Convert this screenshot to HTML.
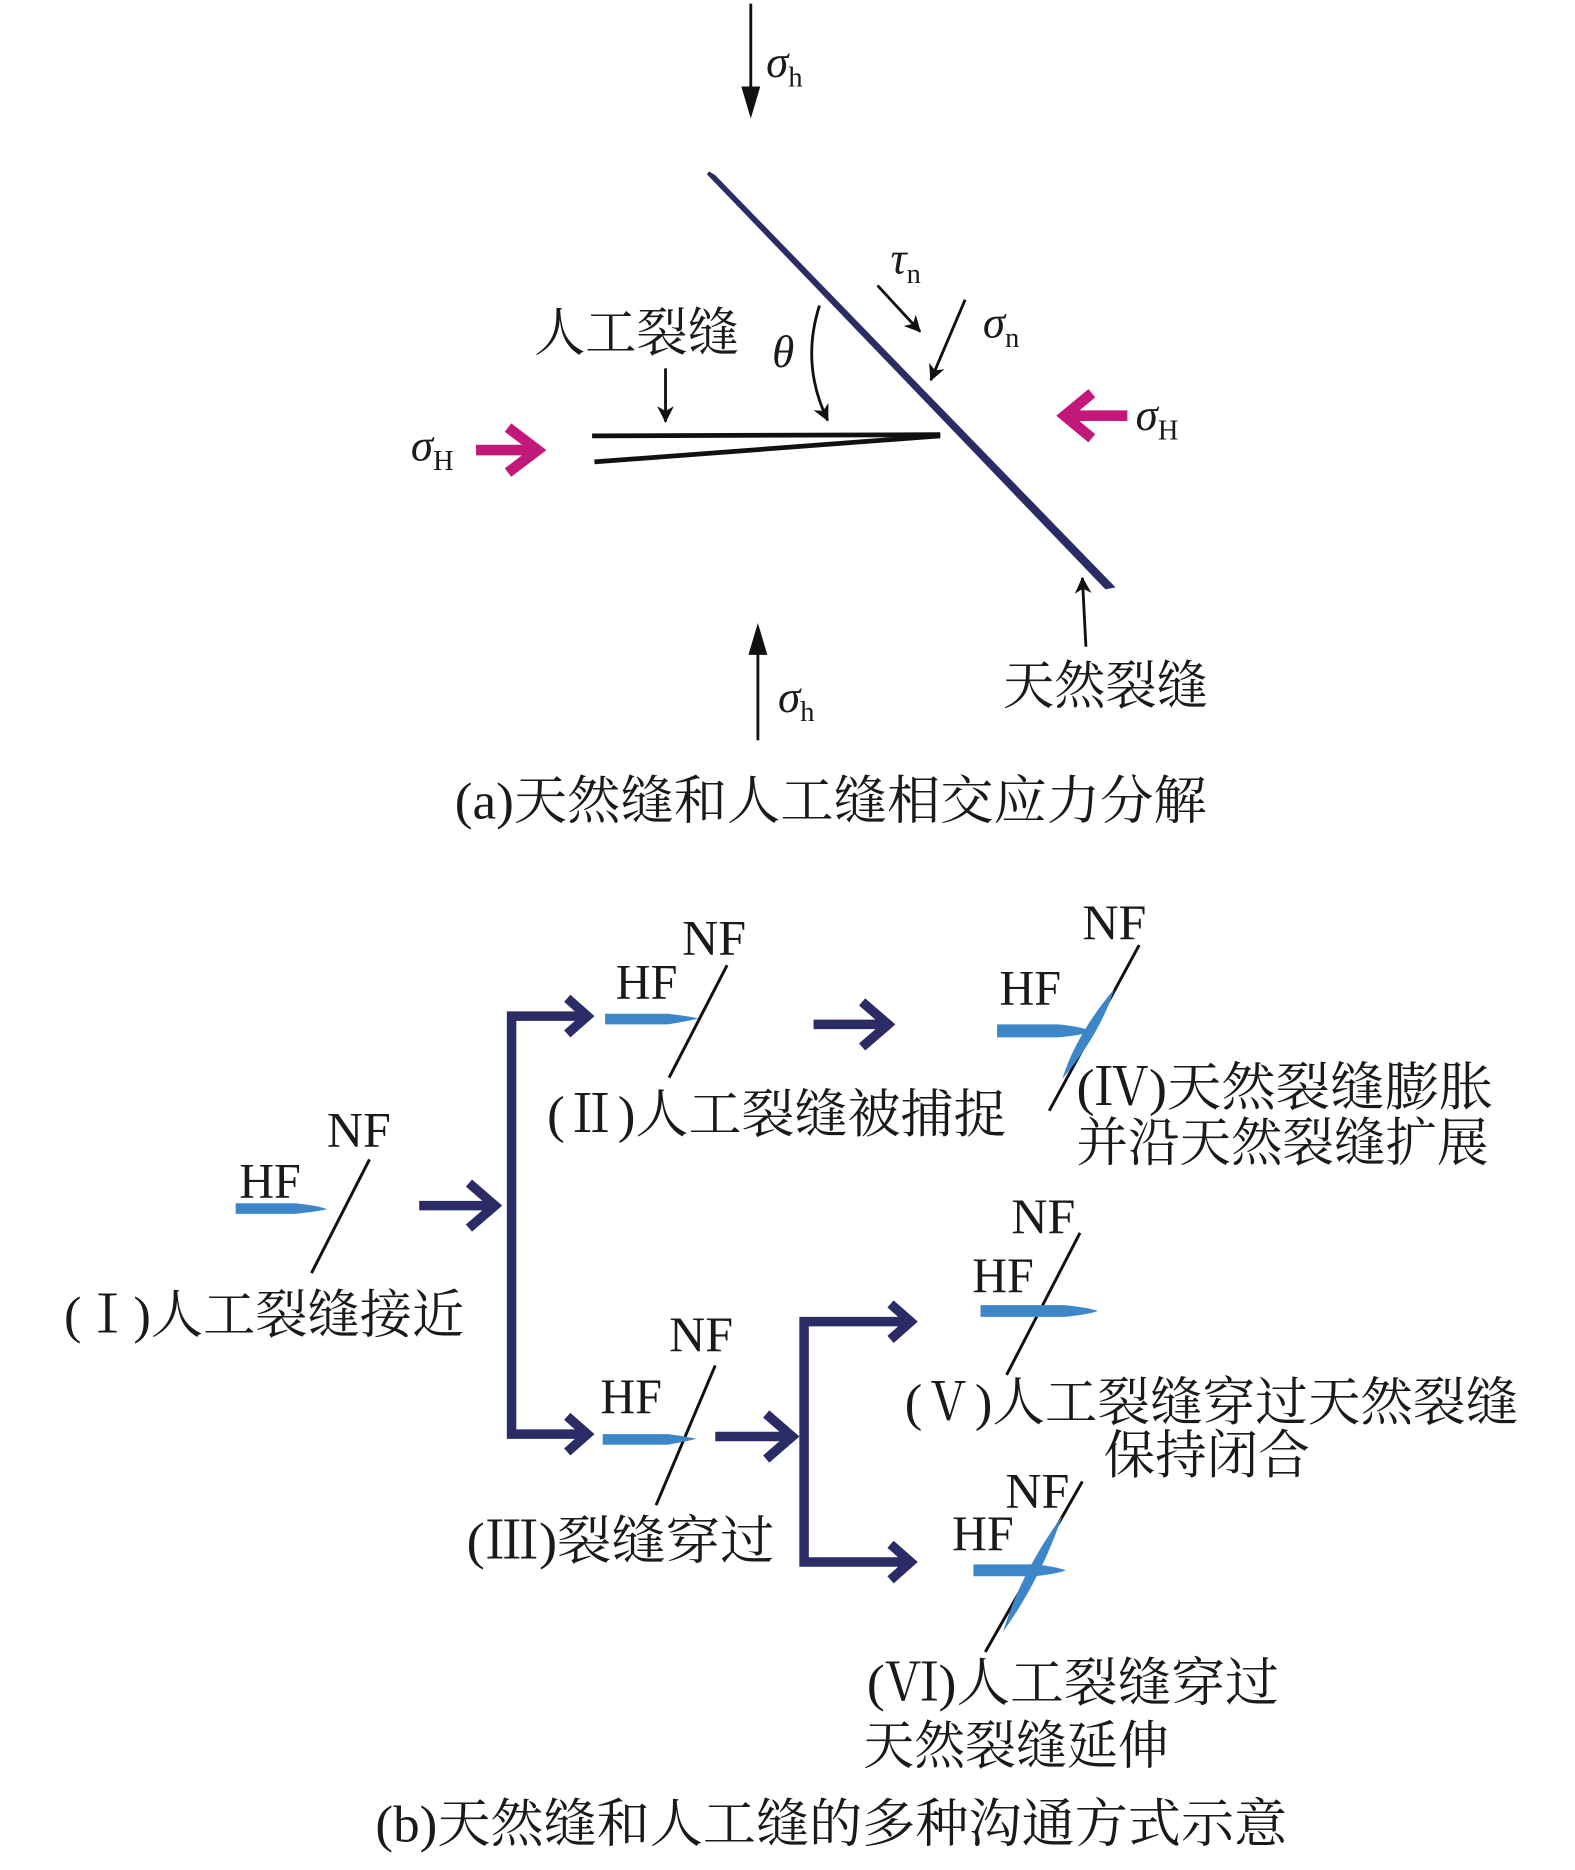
<!DOCTYPE html>
<html><head><meta charset="utf-8"><style>
html,body{margin:0;padding:0;background:#fff}
svg{display:block}
text{font-family:"Liberation Serif","Noto Serif CJK SC",serif;fill:#1a1a1a}
.cn{font-family:"Liberation Serif","Noto Serif CJK SC",serif;font-size:44px}
.it{font-style:italic;font-size:38px}
.sub{font-size:24px;font-style:normal}
</style></head><body>
<svg width="1575" height="1870" viewBox="0 0 1330 1579" xmlns="http://www.w3.org/2000/svg">
<defs>
<marker id="ah" markerWidth="14" markerHeight="14" refX="13" refY="7" orient="auto" markerUnits="userSpaceOnUse" viewBox="0 0 14 14">
<path d="M0,0 L14,7 L0,14 L4,7 Z" fill="#111"/></marker>
</defs>
<g transform="translate(4,3)">
<g stroke="#111" stroke-width="2.4" fill="none">
<line x1="630" y1="0" x2="630" y2="80"/>
<line x1="558" y1="308" x2="558" y2="353" marker-end="url(#ah)"/>
<line x1="737" y1="238" x2="773" y2="277" marker-end="url(#ah)"/>
<line x1="811" y1="250" x2="782" y2="318" marker-end="url(#ah)"/>
<line x1="913" y1="543" x2="910" y2="485" marker-end="url(#ah)"/>
<line x1="636" y1="622" x2="636" y2="540"/>
<path d="M688,255 Q672,305 695,352" marker-end="url(#ah)"/>
</g>
<g fill="#111">
<path d="M622,70 L630,97 L638,70 Z"/>
<path d="M628,550 L636,523 L644,550 Z"/>
</g>
<path d="M594,143 L599,146 L935,492 L930,493 Z" fill="#2b2b66" stroke="#2b2b66" stroke-width="3"/>
<g stroke="#111" stroke-width="4" fill="none">
<line x1="496" y1="365" x2="790" y2="364"/>
<line x1="498" y1="387" x2="790" y2="365"/>
</g>
<g stroke="#c2187a" stroke-width="9" fill="none" stroke-linecap="butt">
<line x1="398" y1="377" x2="448" y2="377"/><polyline points="425,358 450,377 425,396"/>
<line x1="948" y1="348" x2="900" y2="348"/><polyline points="918,329 895,348 918,367"/>
</g>
<text class="it" x="643" y="62">σ<tspan class="sub" dy="8">h</tspan></text>
<text class="it" x="653" y="598">σ<tspan class="sub" dy="8">h</tspan></text>
<text class="it" x="343" y="386">σ<tspan class="sub" dy="8">H</tspan></text>
<text class="it" x="955" y="360">σ<tspan class="sub" dy="8">H</tspan></text>
<text class="it" x="748" y="228">τ<tspan class="sub" dy="8">n</tspan></text>
<text class="it" x="826" y="282">σ<tspan class="sub" dy="8">n</tspan></text>
<text class="it" x="648" y="307">θ</text>
<text class="cn" x="447" y="293" textLength="173" lengthAdjust="spacingAndGlyphs">人工裂缝</text>
<text class="cn" x="843" y="591" textLength="173" lengthAdjust="spacingAndGlyphs">天然裂缝</text>
<text class="cn" x="380" y="688" textLength="635" lengthAdjust="spacingAndGlyphs">(a)天然缝和人工缝相交应力分解</text>

<g stroke="#2b2b66" stroke-width="8" fill="none" stroke-linejoin="miter">
<line x1="350" y1="1015" x2="412" y2="1015"/><polyline points="392,996 414,1015 392,1034"/>
<polyline points="490,855 428,855 428,1208 490,1208"/>
<polyline points="475,840 492,855 475,870"/><polyline points="475,1193 492,1208 475,1223"/>
<line x1="683" y1="862" x2="745" y2="862"/><polyline points="724,843 746,862 724,881"/>
<line x1="600" y1="1210" x2="663" y2="1210"/><polyline points="643,1191 665,1210 643,1229"/>
<polyline points="762,1113 675,1113 675,1316 762,1316"/>
<polyline points="748,1098 765,1113 748,1128"/><polyline points="748,1301 765,1316 748,1331"/>
</g>
<g stroke="#111" stroke-width="2.5">
<line x1="308" y1="976" x2="259" y2="1072"/>
<line x1="610" y1="812" x2="561" y2="907"/>
<line x1="958" y1="795" x2="882" y2="935"/>
<line x1="600" y1="1150" x2="550" y2="1268"/>
<line x1="908" y1="1038" x2="846" y2="1158"/>
<line x1="910" y1="1248" x2="828" y2="1392"/>
</g>
<g fill="#3d87c8">
<path d="M195,1013 L245,1013 Q265,1015 272,1018 Q265,1020 245,1022 L195,1022 Z"/>
<path d="M507,853 L560,853 Q578,855 586,857 Q578,859 560,862 L507,862 Z"/>
<path d="M838,862 L890,862 Q910,864 918,868 Q910,871 890,873 L838,873 Z"/>
<path d="M937,832 Q925,870 893,908 Q905,870 937,832 Z"/>
<path d="M505,1208 L560,1208 Q576,1210 584,1212 Q576,1214 560,1217 L505,1217 Z"/>
<path d="M824,1099 L895,1099 Q915,1101 923,1104 Q915,1107 895,1109 L824,1109 Z"/>
<path d="M818,1318 L870,1318 Q888,1320 896,1323 Q888,1326 870,1328 L818,1328 Z"/>
<path d="M893,1277 Q875,1330 843,1375 Q858,1325 893,1277 Z"/>
</g>
<g font-size="42">
<text x="198" y="1008" textLength="52" lengthAdjust="spacingAndGlyphs">HF</text><text x="272" y="965" textLength="54" lengthAdjust="spacingAndGlyphs">NF</text>
<text x="516" y="840" textLength="52" lengthAdjust="spacingAndGlyphs">HF</text><text x="572" y="803" textLength="54" lengthAdjust="spacingAndGlyphs">NF</text>
<text x="840" y="845" textLength="52" lengthAdjust="spacingAndGlyphs">HF</text><text x="910" y="790" textLength="54" lengthAdjust="spacingAndGlyphs">NF</text>
<text x="503" y="1190" textLength="52" lengthAdjust="spacingAndGlyphs">HF</text><text x="561" y="1138" textLength="54" lengthAdjust="spacingAndGlyphs">NF</text>
<text x="817" y="1088" textLength="52" lengthAdjust="spacingAndGlyphs">HF</text><text x="850" y="1038" textLength="54" lengthAdjust="spacingAndGlyphs">NF</text>
<text x="800" y="1306" textLength="52" lengthAdjust="spacingAndGlyphs">HF</text><text x="845" y="1270" textLength="54" lengthAdjust="spacingAndGlyphs">NF</text>
</g>
<text class="cn" x="50" y="1122" textLength="338" lengthAdjust="spacingAndGlyphs">(Ⅰ)人工裂缝接近</text>
<text class="cn" x="458" y="953" textLength="388" lengthAdjust="spacingAndGlyphs">(Ⅱ)人工裂缝被捕捉</text>
<text class="cn" x="905" y="930" textLength="352" lengthAdjust="spacingAndGlyphs">(Ⅳ)天然裂缝膨胀</text>
<text class="cn" x="905" y="977" textLength="348" lengthAdjust="spacingAndGlyphs">并沿天然裂缝扩展</text>
<text class="cn" x="390" y="1313" textLength="260" lengthAdjust="spacingAndGlyphs">(Ⅲ)裂缝穿过</text>
<text class="cn" x="760" y="1196" textLength="518" lengthAdjust="spacingAndGlyphs">(Ⅴ)人工裂缝穿过天然裂缝</text>
<text class="cn" x="928" y="1241" textLength="174" lengthAdjust="spacingAndGlyphs">保持闭合</text>
<text class="cn" x="728" y="1433" textLength="348" lengthAdjust="spacingAndGlyphs">(Ⅵ)人工裂缝穿过</text>
<text class="cn" x="725" y="1486" textLength="258" lengthAdjust="spacingAndGlyphs">天然裂缝延伸</text>
<text class="cn" x="313" y="1552" textLength="770" lengthAdjust="spacingAndGlyphs">(b)天然缝和人工缝的多种沟通方式示意</text>
</g>
</svg>
</body></html>
